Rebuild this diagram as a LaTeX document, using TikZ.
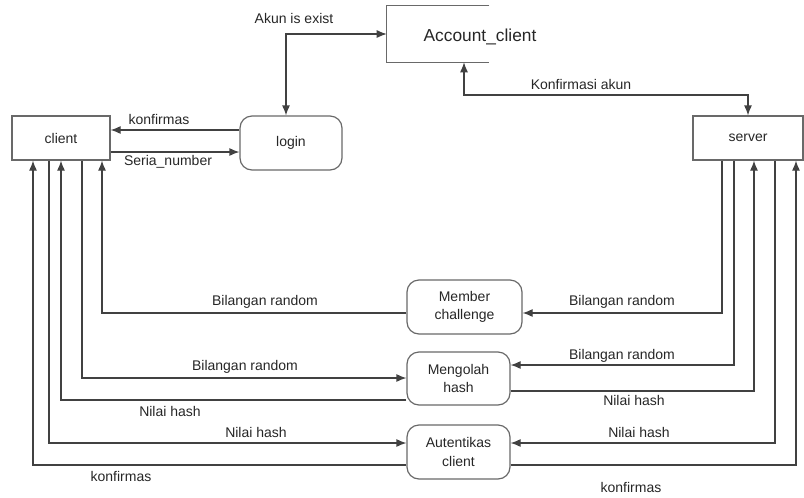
\documentclass[tikz,border=0pt]{standalone}
\usepackage{fontspec}
\setmainfont{Liberation Sans}
\usetikzlibrary{arrows.meta,positioning}

\definecolor{linegray}{RGB}{65,65,65}
\definecolor{boxgray}{RGB}{105,105,105}

\tikzset{
  entity/.style={draw=boxgray, line width=0.9pt, minimum width=73.5pt, minimum height=33pt,
    inner sep=0pt, text=black!85, font=\fontsize{10.5}{14}\selectfont},
  process/.style={entity, rounded corners=9pt, align=center},
  store/.style={draw=boxgray, line width=0.9pt},
  flow/.style={draw=linegray, line width=0.9pt, -{Latex[length=7.5pt,width=6pt]}},
  both/.style={flow, {Latex[length=7.5pt,width=6pt]}-{Latex[length=7.5pt,width=6pt]}},
  lbl/.style={inner sep=0pt, text=black!85, font=\fontsize{10.5}{12}\selectfont},
}

\begin{document}
\begin{tikzpicture}[x=0.75pt,y=0.75pt,yscale=-1,xscale=1]
    \useasboundingbox (0,0) rectangle (804,497);
    % entities
    \node [entity] (client) at (61,138) {client};
    \node [entity, minimum width=82.5pt] (server) at (748,138) {server};
    % data store
    \node [minimum width=76.5pt, minimum height=42pt, inner sep=0pt] (acc) at (438,34) {};
    \draw [store] (acc.north east) -- (acc.north west) -- (acc.south west) -- (acc.south east);
    \node [lbl, font=\fontsize{13}{15}\selectfont] (acctext) at (480,37) {Account\_client};
    % processes
    \node [process, minimum width=76.5pt, minimum height=40.5pt] (login) at (291,143) {login};
    \node [process, minimum width=86.25pt, minimum height=40.5pt] (member) at (464.5,307) {Member\\challenge};
    \node [process, minimum width=77.25pt, minimum height=39.75pt] (hash) at (458.5,378.5) {Mengolah\\hash};
    \node [process, minimum width=77.25pt, minimum height=40.5pt] (auth) at (458.5,452) {Autentikas\\client};
    % bends
    \coordinate (k1) at (0,130);
    \coordinate (k2) at (0,152);
    \coordinate (a1) at (286,34);
    \coordinate (k3) at (464,95);
    \coordinate (m1) at (722,313);
    \coordinate (m2) at (102,313);
    \coordinate (h1) at (734,365);
    \coordinate (h2) at (82,378);
    \coordinate (h3) at (754,391);
    \coordinate (h4) at (61,400);
    \coordinate (t1) at (49,443);
    \coordinate (t2) at (775,443);
    \coordinate (t3) at (33,465);
    \coordinate (t4) at (796,465);
    % upper flows
    \draw [flow] (login.west |- k1) -- (client.east |- k1);
    \draw [flow] (client.east |- k2) -- (login.west |- k2);
    \draw [both] (login.north -| a1) |- (acc.west);
    \draw [both] (acc.south -| k3) -- (k3) -| (server.north);
    % lower flows
    \draw [flow] (server.south -| m1) |- (member.east |- m1);
    \draw [flow] (member.west |- m2) -| (client.south -| m2);
    \draw [flow] (server.south -| h1) |- (hash.east |- h1);
    \draw [flow] (client.south -| h2) |- (hash.west |- h2);
    \draw [flow] (hash.east |- h3) -| (server.south -| h3);
    \draw [flow] (hash.west |- h4) -| (client.south -| h4);
    \draw [flow] (client.south -| t1) |- (auth.west |- t1);
    \draw [flow] (server.south -| t2) |- (auth.east |- t2);
    \draw [flow] (auth.west |- t3) -| (client.south -| t3);
    \draw [flow] (auth.east |- t4) -| (server.south -| t4);
    % labels
    \node [lbl] (l1) at (294,18) {Akun is exist};
    \node [lbl] (l2) at (159,119) {konfirmas};
    \node [lbl] (l3) at (168,162) {Seria\_number};
    \node [lbl] (l4) at (581,84) {Konfirmasi akun};
    \node [lbl] (l5) at (622,302) {Bilangan random};
    \node [lbl] (l6) at (265,302) {Bilangan random};
    \node [lbl] (l7) at (622,356) {Bilangan random};
    \node [lbl] (l8) at (245,367) {Bilangan random};
    \node [lbl] (l9) at (634,400) {Nilai hash};
    \node [lbl] (l10) at (170,411) {Nilai hash};
    \node [lbl] (l11) at (256,432) {Nilai hash};
    \node [lbl] (l12) at (639,432) {Nilai hash};
    \node [lbl] (l13) at (121,476) {konfirmas};
    \node [lbl] (l14) at (631,487) {konfirmas};
\end{tikzpicture}
\end{document}
